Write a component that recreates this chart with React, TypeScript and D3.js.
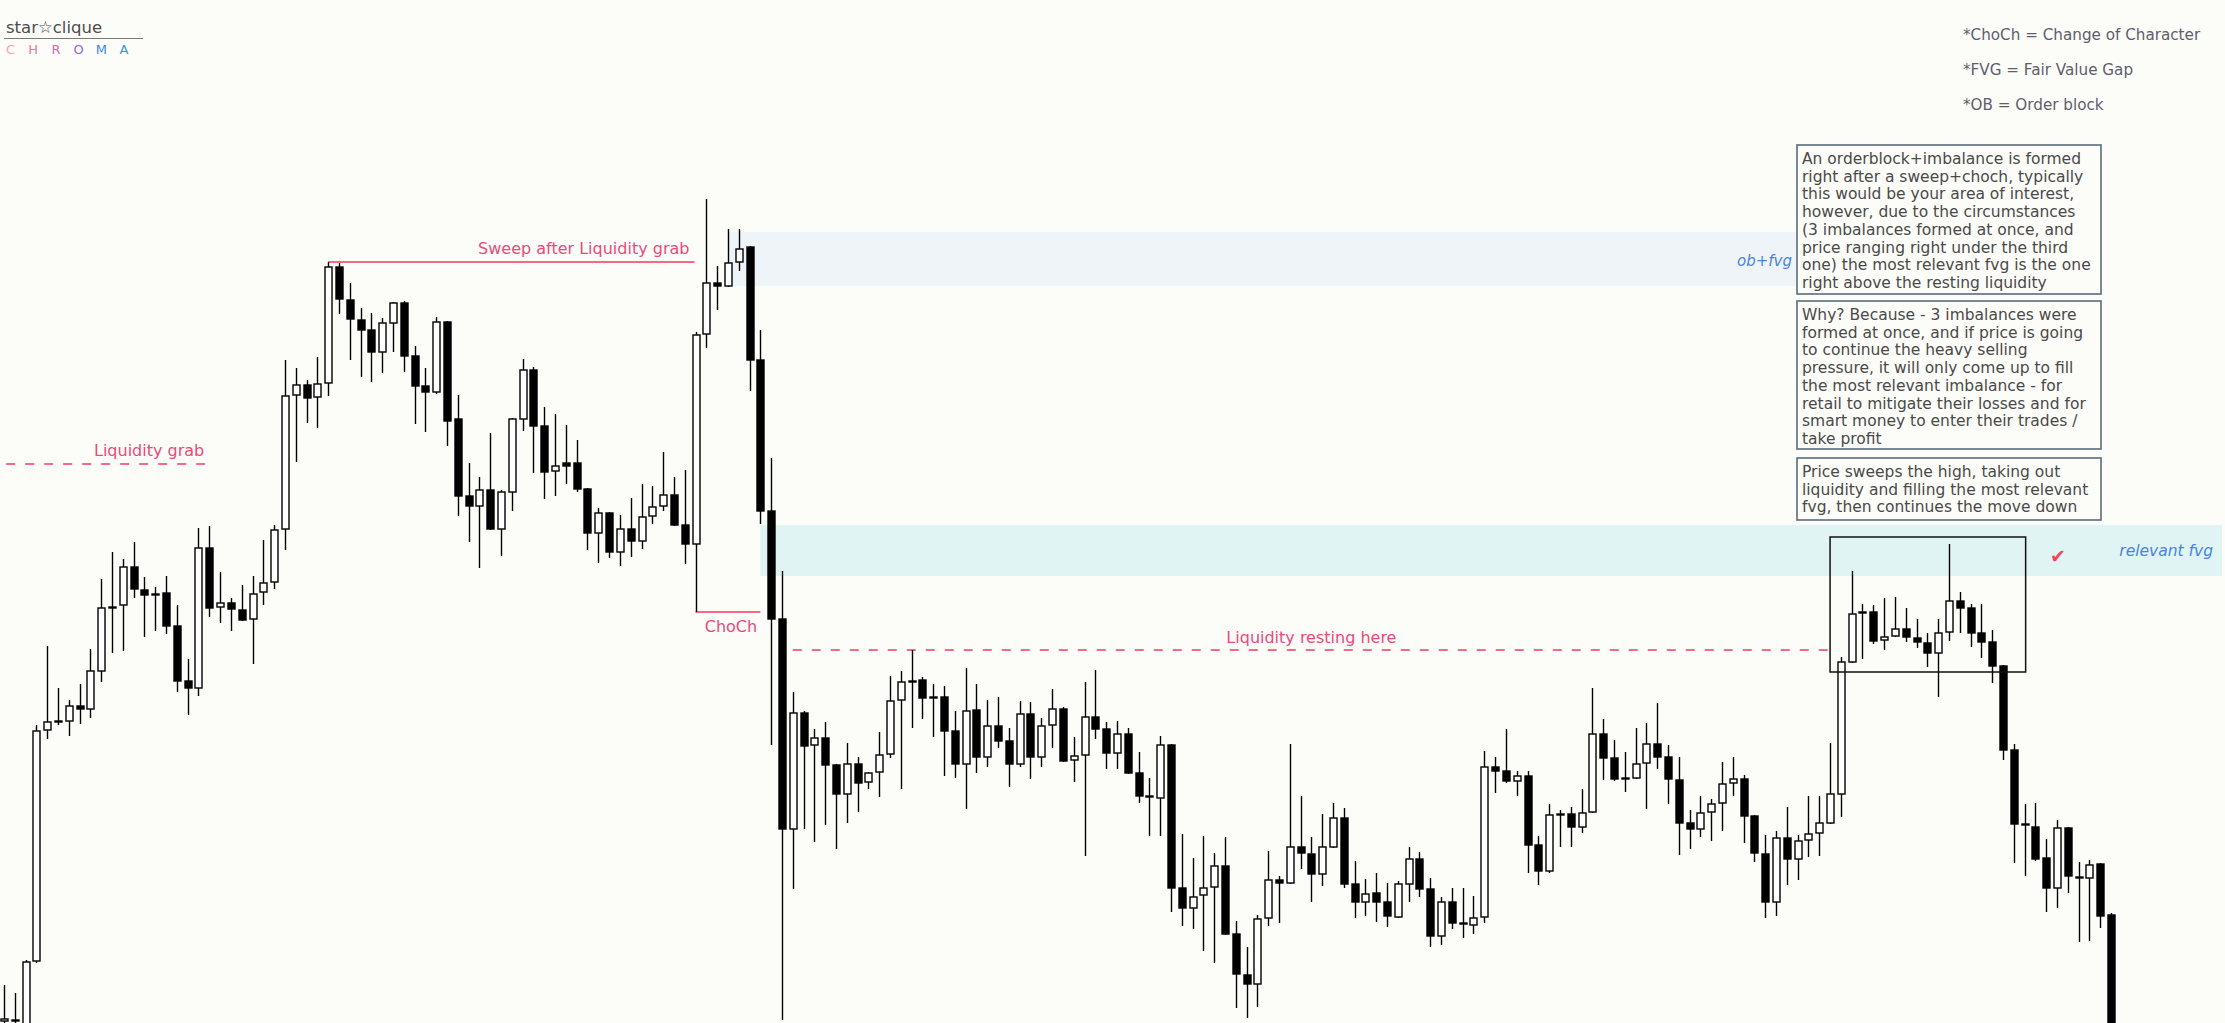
import React from 'react';
import * as d3 from 'd3';

// OHLC (price units, higher = up)
const openPrices = [
  79, 79, 70, 139, 370, 378, 379, 394, 391, 429,
  492, 495, 533, 510, 506, 507, 474, 419, 412, 552,
  493, 497, 490, 481, 508, 518, 571, 705, 715, 703,
  717, 833, 800, 780, 770, 748, 777, 797, 744, 714,
  708, 778, 681, 604, 594, 610, 571, 608, 681, 730,
  674, 629, 637, 637, 611, 567, 587, 548, 571, 559,
  584, 594, 605, 575, 556, 766, 817, 814, 838, 853,
  740, 589, 481, 271, 387, 355, 362, 335, 306, 336,
  318, 328, 346, 400, 419, 420, 403, 403, 369, 336,
  390, 343, 374, 359, 336, 386, 343, 375, 391, 340,
  345, 383, 371, 347, 366, 327, 304, 302, 355, 212,
  192, 205, 213, 234, 166, 125, 116, 182, 220, 217,
  253, 246, 226, 253, 282, 216, 198, 207, 198, 183,
  216, 241, 211, 164, 198, 177, 175, 183, 333, 329,
  319, 324, 255, 229, 286, 286, 273, 288, 366, 342,
  322, 322, 337, 356, 343, 320, 277, 271, 288, 297,
  317, 321, 284, 246, 198, 262, 241, 260, 267, 277,
  306, 438, 487, 488, 460, 464, 471, 462, 457, 447,
  468, 499, 492, 467, 458, 434, 350, 276, 273, 242,
  212, 272, 223, 222, 236, 185,
];

const highPrices = [
  115, 107, 140, 375, 454, 412, 400, 416, 451, 521,
  548, 541, 558, 523, 513, 524, 495, 441, 572, 574,
  528, 502, 515, 524, 560, 575, 740, 732, 720, 743,
  838, 837, 817, 792, 787, 782, 798, 799, 754, 732,
  783, 779, 705, 637, 623, 667, 610, 682, 741, 733,
  693, 686, 675, 660, 612, 592, 588, 585, 602, 616,
  614, 648, 623, 630, 768, 901, 834, 871, 871, 854,
  770, 642, 529, 408, 389, 371, 378, 336, 357, 343,
  328, 368, 424, 429, 450, 423, 416, 414, 389, 432,
  416, 400, 403, 372, 399, 398, 382, 411, 393, 363,
  418, 430, 378, 379, 372, 348, 322, 364, 356, 266,
  242, 264, 247, 263, 179, 153, 185, 249, 224, 356,
  304, 263, 286, 297, 292, 239, 221, 227, 217, 219,
  253, 248, 222, 203, 212, 212, 204, 349, 343, 371,
  329, 329, 264, 296, 290, 293, 311, 412, 381, 360,
  348, 372, 377, 397, 355, 343, 290, 304, 301, 338,
  343, 325, 285, 265, 269, 293, 265, 304, 304, 357,
  443, 529, 496, 495, 502, 503, 492, 481, 467, 481,
  556, 508, 496, 496, 470, 435, 356, 296, 297, 261,
  280, 273, 238, 240, 237, 187,
];

const lowPrices = [
  70, 70, 65, 137, 361, 375, 364, 376, 382, 418,
  447, 449, 502, 463, 469, 466, 408, 385, 404, 483,
  477, 469, 479, 436, 495, 511, 550, 638, 677, 672,
  704, 786, 740, 723, 718, 727, 748, 728, 676, 668,
  706, 654, 584, 558, 532, 570, 544, 589, 669, 627,
  601, 604, 616, 608, 550, 537, 542, 534, 543, 551,
  576, 589, 574, 536, 488, 752, 790, 813, 829, 709,
  576, 355, 80, 211, 271, 258, 275, 251, 277, 288,
  311, 303, 342, 311, 372, 381, 363, 324, 322, 291,
  327, 333, 352, 313, 333, 321, 333, 352, 338, 318,
  244, 361, 331, 331, 326, 297, 264, 264, 188, 174,
  171, 149, 137, 165, 92, 82, 93, 174, 177, 216,
  231, 198, 214, 252, 212, 182, 184, 178, 173, 182,
  198, 203, 153, 155, 171, 162, 166, 177, 307, 317,
  304, 227, 215, 227, 253, 253, 267, 287, 320, 319,
  308, 321, 291, 331, 296, 245, 251, 263, 259, 269,
  304, 257, 238, 182, 184, 215, 220, 243, 244, 276,
  283, 437, 441, 456, 450, 463, 458, 452, 433, 403,
  459, 467, 453, 442, 417, 340, 237, 224, 239, 188,
  192, 207, 158, 159, 172, 60,
];

const closePrices = [
  81, 80, 138, 369, 378, 379, 394, 391, 429, 492,
  493, 533, 511, 505, 506, 474, 419, 412, 552, 492,
  497, 491, 480, 506, 517, 570, 704, 715, 702, 716,
  833, 801, 781, 770, 748, 777, 797, 744, 714, 708,
  778, 679, 604, 594, 610, 571, 608, 681, 730, 674,
  628, 634, 634, 611, 567, 587, 548, 571, 559, 583,
  593, 605, 575, 556, 765, 817, 814, 837, 851, 740,
  589, 481, 271, 387, 354, 362, 335, 306, 336, 317,
  327, 345, 399, 418, 419, 402, 403, 369, 336, 389,
  343, 374, 359, 336, 386, 343, 374, 391, 339, 344,
  383, 371, 347, 366, 327, 304, 303, 355, 212, 192,
  203, 212, 234, 166, 126, 116, 181, 220, 217, 253,
  247, 226, 253, 282, 216, 198, 206, 198, 184, 216,
  241, 211, 164, 198, 177, 176, 182, 333, 329, 319,
  324, 255, 229, 285, 286, 273, 287, 366, 342, 321,
  322, 336, 356, 343, 321, 277, 271, 287, 296, 316,
  321, 284, 247, 198, 262, 241, 259, 266, 277, 306,
  438, 486, 488, 459, 463, 471, 463, 458, 447, 467,
  499, 492, 467, 458, 434, 350, 276, 275, 241, 212,
  272, 224, 223, 235, 184, 70,
];

// annotation levels: [fromIndex, toIndex, price]
const liquidityGrab = [0.2, 18.9, 636];
const sweepLevel = [30, 63.9, 838];
const chochLevel = [64, 70, 488];
const restingLiquidity = [73, 169, 450];
// zones: [fromIndex, lowPrice, highPrice]
const obFvgZone = [67, 814, 868];
const relevantFvgZone = [70, 524, 575];
// box around the sweep: [fromIndex, toIndex, lowPrice, highPrice]
const sweepBox = [169, 187.1, 428, 563];

const notes = ['*ChoCh = Change of Character', '*FVG = Fair Value Gap', '*OB = Order block'];

const textBoxes = [
  [
    'An orderblock+imbalance is formed',
    'right after a sweep+choch, typically',
    'this would be your area of interest,',
    'however, due to the circumstances',
    '(3 imbalances formed at once, and',
    'price ranging right under the third',
    'one) the most relevant fvg is the one',
    'right above the resting liquidity',
  ],
  [
    'Why? Because - 3 imbalances were',
    'formed at once, and if price is going',
    'to continue the heavy selling',
    'pressure, it will only come up to fill',
    'the most relevant imbalance - for',
    'retail to mitigate their losses and for',
    'smart money to enter their trades /',
    'take profit',
  ],
  [
    'Price sweeps the high, taking out',
    'liquidity and filling the most relevant',
    'fvg, then continues the move down',
  ],
];

const chromaLetters = ['C', 'H', 'R', 'O', 'M', 'A'];
const chromaColors = ['#f4a6a6', '#ec78a6', '#d66aae', '#9467e0', '#3f86f0', '#2d95f3'];

const W = 2225;
const H = 1023;
const BG = '#fcfcf8';
const LINE_RED = '#f23b5a';
const LABEL_PINK = '#ea4a7c';
const FVG_BLUE = '#4783e6';
const FONT = "'DejaVu Sans', sans-serif";

export default function App() {
  const x = d3.scaleLinear().domain([0, openPrices.length - 1]).range([4, 2111]);
  const y = d3.scaleLinear().domain([0, 1100]).range([1100, 0]);

  const candles = openPrices.map((o, i) => ({
    i,
    o,
    h: highPrices[i],
    l: lowPrices[i],
    c: closePrices[i],
  }));

  const bodyW = 7;
  const px = (i: number) => Math.round(x(i)) + 0.5;

  const boxTops = [145, 301, 458];
  const boxHeights = [149, 148, 62];
  const lineH = 17.7;

  return (
    <svg
      width={W}
      height={H}
      style={{ position: 'fixed', left: 0, top: 0, display: 'block', fontFamily: FONT }}
    >
      <rect width={W} height={H} fill={BG} />

      {/* logo */}
      <text x={6} y={33} fontSize={16.5} fill="#4d4d4d">star☆clique</text>
      <line x1={4} x2={143} y1={38.5} y2={38.5} stroke="#7a7a7a" strokeWidth={1.2} />
      {chromaLetters.map((ch, k) => (
        <text key={ch + k} x={10.5 + k * 22.7} y={54} fontSize={13} textAnchor="middle" fill={chromaColors[k]}>
          {ch}
        </text>
      ))}

      {/* notes top right */}
      {notes.map((t, k) => (
        <text key={t} x={1963} y={40 + k * 35} fontSize={15.2} fill="#5e5e6c">{t}</text>
      ))}

      {/* zones */}
      <rect
        x={x(obFvgZone[0])}
        y={y(obFvgZone[2])}
        width={1797 - x(obFvgZone[0])}
        height={y(obFvgZone[1]) - y(obFvgZone[2])}
        fill="#eef4f8"
      />
      <rect
        x={x(relevantFvgZone[0])}
        y={y(relevantFvgZone[2])}
        width={2222 - x(relevantFvgZone[0])}
        height={y(relevantFvgZone[1]) - y(relevantFvgZone[2])}
        fill="#e1f4f4"
      />
      <text x={1792} y={266} fontSize={15} fontStyle="italic" textAnchor="end" fill={FVG_BLUE}>ob+fvg</text>
      <text x={2213} y={556} fontSize={15.5} fontStyle="italic" textAnchor="end" fill={FVG_BLUE}>relevant fvg</text>
      <text x={2058} y={563} fontSize={19} textAnchor="middle" fill="#f04556">✔</text>

      {/* level lines */}
      <line
        x1={x(liquidityGrab[0])} x2={x(liquidityGrab[1])}
        y1={y(liquidityGrab[2])} y2={y(liquidityGrab[2])}
        stroke={LINE_RED} strokeWidth={1.4} strokeDasharray="9 10"
      />
      <text x={x(liquidityGrab[1]) - 4} y={y(liquidityGrab[2]) - 8} fontSize={16} textAnchor="end" fill={LABEL_PINK}>
        Liquidity grab
      </text>

      <line
        x1={x(sweepLevel[0])} x2={x(sweepLevel[1])}
        y1={y(sweepLevel[2])} y2={y(sweepLevel[2])}
        stroke={LINE_RED} strokeWidth={1.4}
      />
      <text x={x(sweepLevel[1]) - 5} y={y(sweepLevel[2]) - 8} fontSize={16} textAnchor="end" fill={LABEL_PINK}>
        Sweep after Liquidity grab
      </text>

      <line
        x1={x(chochLevel[0])} x2={x(chochLevel[1])}
        y1={y(chochLevel[2])} y2={y(chochLevel[2])}
        stroke={LINE_RED} strokeWidth={1.4}
      />
      <text x={(x(chochLevel[0]) + x(chochLevel[1])) / 2 + 3} y={y(chochLevel[2]) + 20} fontSize={16} textAnchor="middle" fill={LABEL_PINK}>
        ChoCh
      </text>

      <line
        x1={x(restingLiquidity[0])} x2={x(restingLiquidity[1])}
        y1={y(restingLiquidity[2])} y2={y(restingLiquidity[2])}
        stroke={LINE_RED} strokeWidth={1.4} strokeDasharray="9 10"
      />
      <text
        x={(x(restingLiquidity[0]) + x(restingLiquidity[1])) / 2}
        y={y(restingLiquidity[2]) - 7}
        fontSize={16} textAnchor="middle" fill={LABEL_PINK}
      >
        Liquidity resting here
      </text>

      {/* candles */}
      <g>
        {candles.map(d => {
          const cx = px(d.i);
          const top = y(Math.max(d.o, d.c));
          const bottom = y(Math.min(d.o, d.c));
          const up = d.c >= d.o;
          return (
            <g key={d.i}>
              <line x1={cx} x2={cx} y1={y(d.h)} y2={y(d.l)} stroke="#000" strokeWidth={1.4} />
              <rect
                x={cx - bodyW / 2}
                y={top}
                width={bodyW}
                height={Math.max(1, bottom - top)}
                fill={up ? '#ffffff' : '#000000'}
                stroke="#000"
                strokeWidth={1.4}
              />
            </g>
          );
        })}
      </g>

      {/* sweep box */}
      <rect
        x={x(sweepBox[0])}
        y={y(sweepBox[3])}
        width={x(sweepBox[1]) - x(sweepBox[0])}
        height={y(sweepBox[2]) - y(sweepBox[3])}
        fill="none"
        stroke="#111"
        strokeWidth={1.5}
      />

      {/* explanation boxes */}
      {textBoxes.map((lines, b) => (
        <g key={b}>
          <rect
            x={1797}
            y={boxTops[b]}
            width={304}
            height={boxHeights[b]}
            fill={BG}
            stroke="#5d6b7c"
            strokeWidth={1.6}
          />
          {lines.map((t, k) => (
            <text key={k} x={1802} y={boxTops[b] + 19 + k * lineH} fontSize={15.5} fill="#4a4a4a">
              {t}
            </text>
          ))}
        </g>
      ))}
    </svg>
  );
}
